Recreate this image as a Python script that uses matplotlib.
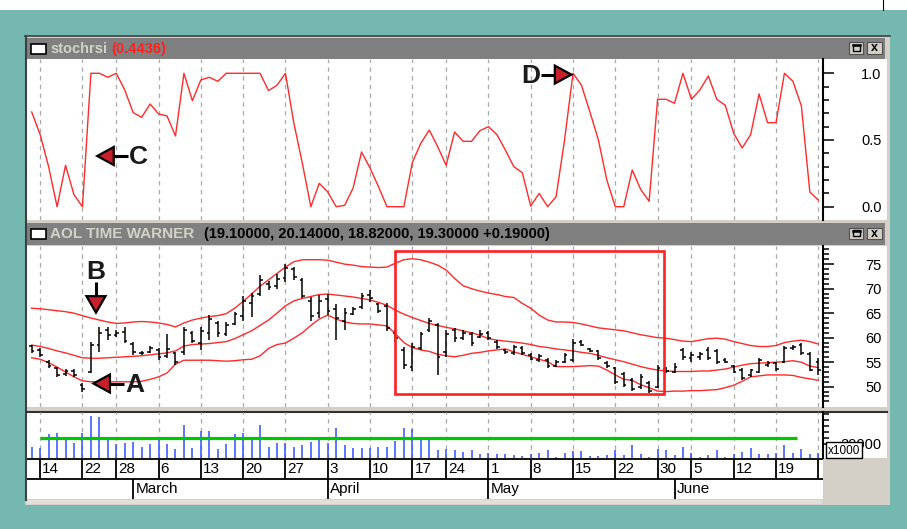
import matplotlib
matplotlib.use("Agg")
import matplotlib.pyplot as plt
from matplotlib.patches import Rectangle, Polygon
from matplotlib import font_manager

# ── Data (bar index 0..93) ───────────────────────────────────

date_ticks  = [1, 6, 10, 15, 20, 25, 30, 35, 40, 45, 49, 54, 59, 64, 69, 74, 78, 83, 88, 93]
date_labels = ["14", "22", "28", "6", "13", "20", "27", "3", "10", "17",
               "24", "1", "8", "15", "22", "30", "5", "12", "19", ""]
month_ticks  = [12, 35, 54, 76]
month_labels = ["March", "April", "May", "June"]

stoch = [0.71, 0.54, 0.30, 0.00, 0.31, 0.09, 0.00, 1.00, 1.00, 0.97,
         1.00, 0.875, 0.705, 0.67, 0.77, 0.695, 0.68, 0.53, 1.00, 0.795,
         0.95, 0.97, 0.94, 1.00, 1.00, 1.00, 1.00, 1.00, 0.87, 0.91,
         1.00, 0.625, 0.325, 0.00, 0.175, 0.11, 0.00, 0.01, 0.14, 0.41,
         0.29, 0.15, 0.00, 0.00, 0.00, 0.33, 0.475, 0.575, 0.45, 0.31,
         0.56, 0.49, 0.49, 0.57, 0.60, 0.54, 0.425, 0.30, 0.255, 0.005,
         0.10, 0.00, 0.075, 0.50, 1.00, 0.91, 0.71, 0.50, 0.20, 0.00,
         0.00, 0.275, 0.13, 0.04, 0.805, 0.805, 0.775, 1.00, 0.805, 0.875,
         0.98, 0.805, 0.76, 0.55, 0.44, 0.54, 0.845, 0.63, 0.63, 1.00,
         0.94, 0.755, 0.11, 0.05]

high = [58.5, 57.8, 55.4, 54.1, 53.7, 53.7, 50.7, 59.2, 62.2, 62.2,
        61.6, 62.2, 59.2, 57.3, 58.3, 57.8, 60.7, 57.1, 62.2, 61.4,
        62.2, 64.6, 63.3, 63.1, 65.3, 68.4, 69.1, 72.7, 71.6, 73.0,
        75.0, 74.5, 72.1, 68.2, 68.7, 68.9, 66.8, 66.0, 66.3, 69.2,
        69.7, 67.0, 67.0, 61.6, 58.0, 59.0, 61.2, 64.1, 62.9, 61.6,
        61.9, 61.6, 61.1, 61.6, 61.4, 59.5, 57.7, 58.6, 58.2, 56.8,
        56.6, 55.8, 55.4, 56.8, 59.7, 59.5, 57.8, 57.5, 55.2, 54.1,
        53.0, 51.7, 52.5, 51.2, 54.4, 54.1, 54.8, 57.8, 57.1, 57.0,
        58.0, 57.6, 55.8, 54.4, 53.9, 53.7, 55.8, 55.2, 55.1, 58.2,
        58.5, 58.9, 57.0, 55.8]
low = [56.8, 56.1, 53.9, 52.0, 52.2, 52.0, 49.0, 52.7, 57.1, 59.5,
       60.2, 58.9, 56.5, 56.5, 56.8, 55.4, 55.8, 54.4, 56.5, 58.9,
       57.5, 59.5, 60.2, 60.4, 62.6, 63.3, 64.3, 68.4, 69.7, 69.9,
       71.3, 71.8, 68.0, 63.4, 64.1, 64.6, 59.5, 61.6, 64.6, 65.9,
       67.2, 65.0, 61.4, 59.2, 53.6, 53.1, 57.5, 61.2, 52.4, 56.1,
       59.2, 59.5, 58.2, 59.9, 59.5, 57.7, 56.6, 56.5, 56.5, 55.4,
       55.0, 53.8, 54.1, 54.8, 55.1, 58.2, 57.1, 55.4, 53.9, 50.5,
       50.0, 49.2, 49.6, 48.8, 49.8, 52.7, 52.7, 55.4, 55.1, 55.4,
       55.4, 54.6, 54.8, 52.7, 51.4, 52.0, 52.7, 54.1, 53.2, 54.8,
       57.5, 56.5, 53.1, 52.4]
opens = [58.2, 57.4, 55.0, 53.8, 52.5, 53.3, 50.4, 53.0, 58.5, 61.5,
         60.6, 61.2, 58.8, 56.8, 57.0, 57.5, 56.2, 56.8, 57.0, 61.0,
         59.0, 61.0, 63.0, 60.8, 62.8, 64.5, 67.0, 68.9, 71.0, 70.5,
         72.2, 74.0, 71.8, 67.5, 65.0, 67.8, 65.8, 63.5, 64.9, 66.2,
         68.8, 66.8, 66.5, 61.0, 57.5, 54.0, 57.8, 61.5, 62.5, 57.0,
         61.5, 60.0, 60.8, 60.2, 61.0, 59.2, 57.5, 56.8, 57.8, 56.5,
         55.4, 55.5, 54.3, 55.0, 55.5, 59.2, 57.7, 57.2, 54.8, 53.8,
         52.5, 51.4, 49.9, 50.8, 50.0, 53.6, 53.0, 57.4, 55.8, 56.0,
         57.5, 57.2, 55.5, 54.2, 53.5, 52.3, 53.0, 54.4, 54.8, 55.0,
         57.8, 58.5, 56.6, 55.0]
close = [57.2, 56.5, 54.3, 52.4, 53.2, 52.3, 49.6, 58.6, 61.0, 60.5,
         61.0, 59.3, 57.0, 56.9, 57.8, 56.0, 57.6, 55.0, 61.5, 59.3,
         61.4, 63.8, 61.0, 62.5, 64.8, 67.5, 68.5, 71.8, 70.4, 72.0,
         74.2, 72.3, 68.5, 64.5, 67.5, 65.5, 64.0, 65.0, 65.8, 68.5,
         68.0, 65.5, 62.0, 60.0, 54.5, 58.0, 60.8, 63.5, 56.0, 60.8,
         60.0, 61.0, 59.0, 60.8, 60.0, 58.0, 57.0, 58.0, 56.8, 55.7,
         56.2, 54.2, 55.0, 56.5, 59.0, 58.6, 57.3, 55.8, 54.2, 51.0,
         50.4, 49.6, 52.0, 49.2, 53.8, 53.2, 54.0, 56.0, 56.5, 56.6,
         55.8, 55.0, 55.0, 53.0, 51.8, 53.4, 55.5, 54.9, 53.6, 57.8,
         58.0, 56.8, 53.5, 53.4]

bb_upper = [66.0, 65.9, 65.7, 65.5, 65.3, 65.0, 64.5, 64.0, 63.6, 63.2,
            62.9, 63.0, 63.2, 63.3, 63.2, 63.0, 62.7, 62.2, 63.0, 63.6,
            64.0, 64.3, 64.5, 64.9, 66.0, 67.4, 68.9, 70.5, 71.8, 73.1,
            74.4, 75.5, 75.9, 75.9, 75.9, 75.8, 75.4, 75.0, 74.8, 74.5,
            74.4, 74.3, 74.4, 75.2, 75.9, 76.1, 75.9, 75.4, 74.8, 73.8,
            72.1, 70.6, 70.0, 69.5, 69.1, 68.8, 68.4, 68.2, 67.0, 66.0,
            64.6, 63.6, 63.2, 63.2, 63.1, 62.8, 62.4, 62.0, 61.8, 61.6,
            61.4, 61.0, 60.6, 60.3, 60.0, 59.9, 59.6, 59.3, 59.2, 59.5,
            59.8, 59.9, 59.7, 59.2, 58.8, 58.4, 58.2, 58.2, 58.4, 59.0,
            59.3, 59.5, 59.2, 58.7]
bb_mid = [58.5, 58.2, 57.8, 57.3, 56.9, 56.4, 55.9, 55.8, 55.8, 55.9,
          56.0, 56.1, 56.2, 56.3, 56.5, 56.7, 56.9, 57.3, 58.3, 58.6,
          58.7, 58.8, 59.0, 59.2, 59.8, 60.6, 61.4, 62.5, 63.6, 65.0,
          66.5, 67.5, 68.0, 68.4, 68.8, 68.9, 68.7, 68.5, 68.3, 68.0,
          67.7, 67.2, 66.6, 65.6, 64.8, 64.1, 63.5, 62.9, 62.5, 62.1,
          61.8, 61.4, 61.0, 60.5, 59.8, 59.5, 59.3, 59.1, 58.9, 58.6,
          58.2, 58.0, 57.7, 57.5, 57.3, 57.0, 56.8, 56.4, 55.9, 55.5,
          55.1, 54.6, 54.1, 53.7, 53.4, 53.2, 53.1, 53.1, 53.1, 53.2,
          53.2, 53.4, 53.6, 54.0, 54.4, 54.7, 54.8, 54.9, 55.0, 55.1,
          55.3, 55.0, 54.2, 53.9]
bb_lower = [55.9, 55.6, 54.9, 54.0, 53.0, 52.0, 51.2, 51.0, 51.0, 51.0,
            51.0, 51.0, 51.0, 51.1, 51.5, 52.0, 52.8, 54.6, 55.4, 55.4,
            55.4, 55.4, 55.3, 55.2, 55.3, 55.5, 55.6, 56.3, 57.8, 58.6,
            58.9, 59.9, 61.0, 62.5, 63.8, 64.6, 63.8, 63.2, 62.9, 62.8,
            62.8, 62.6, 62.4, 60.8, 59.0, 58.0, 57.5, 57.2, 56.6, 56.3,
            56.1, 56.4, 56.8, 57.0, 57.3, 57.5, 57.7, 57.1, 56.6, 56.1,
            55.6, 55.1, 54.1, 54.1, 54.1, 54.2, 54.3, 54.2, 53.4, 52.4,
            51.5, 51.3, 50.4, 49.8, 49.1, 49.0, 49.1, 49.1, 49.2, 49.2,
            49.3, 49.4, 49.8, 50.3, 51.1, 52.0, 52.2, 52.4, 52.4, 52.4,
            52.3, 51.9, 51.6, 51.3]

volume = [15900, 14500, 33000, 35000, 26000, 21000, 35000, 57600, 55800, 25000,
          19000, 21000, 22700, 15900, 19500, 27000, 19500, 12300, 45400, 13600,
          37200, 37200, 12300, 19500, 33000, 34000, 26000, 45400, 15900, 21300,
          21300, 15900, 18100, 22700, 26000, 21300, 41700, 18100, 13600, 14500,
          14500, 15900, 15900, 24000, 41700, 40000, 25000, 26000, 11300, 12300,
          11300, 9100, 11300, 5900, 7700, 5900, 5900, 4500, 3200, 5900,
          6800, 11300, 2300, 7700, 10000, 10000, 3000, 3000, 4500, 11300,
          4500, 18100, 5900, 2300, 12300, 11300, 4500, 15900, 7700, 2300,
          4500, 11300, 2300, 5900, 9100, 14500, 5900, 5900, 7700, 18100,
          7700, 12300, 5900, 7700]
vol_avg = 28000
vol_avg_span = (1, 90.5)

# highlighted region (bar index / price)
box_bars = (42.95, 74.7)
box_prices = (48.5, 77.7)

# ── Look ─────────────────────────────────────────────────────
TEAL = "#74B8B0"
FRAME = "#D4D0C8"
TITLE_BG = "#808080"
TITLE_FG = "#D2D2C8"
RED = "#FF2A2A"
BLUE = "#2F50FF"
GREEN = "#00C800"
GRID = "#A8A8A8"

plt.rcParams["font.family"] = ["Liberation Sans", "DejaVu Sans"]
names = {f.name for f in font_manager.fontManager.ttflist}
LETTER_FONT = "Liberation Sans Narrow" if "Liberation Sans Narrow" in names else "Liberation Sans"

W, H = 907, 529
X_LEFT, X_AXIS = 27, 822.7
BAR_X0, BAR_DX = 31.7, 8.458          # pixel position of bar 0, pixels per bar
XLIM = ((X_LEFT - BAR_X0) / BAR_DX, (X_AXIS - BAR_X0) / BAR_DX)

fig = plt.figure(figsize=(W / 100, H / 100), dpi=100, facecolor=TEAL)


def px_axes(l, t, r, b, **kw):
    return fig.add_axes([l / W, 1 - b / H, (r - l) / W, (b - t) / H], **kw)


def rect(ax, x0, y0, x1, y1, **kw):
    ax.add_patch(Rectangle((x0, y0), x1 - x0, y1 - y0, **kw))


# ── Window chrome (pixel coords, y down) ─────────────────────
bg = px_axes(0, 0, W, H, zorder=-5)
bg.set_xlim(0, W)
bg.set_ylim(H, 0)
bg.axis("off")

rect(bg, 0, 0, W, 9.5, fc="white", ec="none")
bg.plot([883, 883], [0, 9.5], color="black", lw=0.8)
rect(bg, 25, 35.5, 890, 504.5, fc=FRAME, ec="none")
bg.plot([25.6, 25.6], [35.5, 500], color="#404040", lw=1.5)
bg.plot([25, 890], [36.3, 36.3], color="#404040", lw=1.2)
rect(bg, 27, 499.5, 822, 504, fc="#E2E0D8", ec="none")

for top, bot in [(38, 58.5), (223.3, 244.5)]:
    rect(bg, 27, top, 885, bot, fc=TITLE_BG, ec="none")
    cy = (top + bot) / 2
    rect(bg, 30.5, cy - 4.7, 45.5, cy + 5.3, fc="white", ec="black", lw=1.2)
    for bx in (848.5, 867):
        rect(bg, bx, cy - 6, bx + 14.5, cy + 5.5, fc=FRAME, ec="#505050", lw=0.8)
    rect(bg, 852.5, cy - 3.5, 859.5, cy + 2.5, fc="none", ec="black", lw=1.0)
    bg.plot([852.5, 859.5], [cy - 3.2, cy - 3.2], color="black", lw=1.8)
    bg.text(874.2, cy, "x", ha="center", va="center", fontsize=9,
            fontweight="bold", color="black")

for top, bot in [(59, 219.5), (246, 406.5), (411, 458.3)]:
    rect(bg, 27, top, 887, bot, fc="white", ec="none")
rect(bg, 27, 458.3, X_AXIS, 499, fc="white", ec="none")
bg.plot([27, 887], [411.7, 411.7], color="#303030", lw=1.5)

bg.text(50, 48.8, "stochrsi", color=TITLE_FG, fontsize=10.5,
        fontweight="bold", va="center")
bg.text(111, 48.8, "(0.4436)", color="#FF2020", fontsize=10.5,
        fontweight="bold", va="center")
bg.text(50, 234.3, "AOL TIME WARNER", color=TITLE_FG, fontsize=11,
        fontweight="bold", va="center")
bg.text(204, 234.3, "(19.10000, 20.14000, 18.82000, 19.30000 +0.19000)",
        color="black", fontsize=10.5, fontweight="bold", va="center")


# ── Data panels ───────────────────────────────────────────────
def style_panel(ax):
    ax.set_facecolor("none")
    ax.set_xlim(XLIM)
    for s in ("left", "top", "bottom"):
        ax.spines[s].set_visible(False)
    ax.spines["right"].set_linewidth(1.5)
    ax.set_xticks(date_ticks)
    ax.tick_params(axis="x", length=0, labelbottom=False)
    ax.grid(axis="x", color=GRID, linestyle=(0, (3.5, 3.5)), linewidth=0.9)
    ax.yaxis.tick_right()
    ax.tick_params(axis="y", which="major", length=8, width=1.1,
                   pad=34.5, labelsize=10.5)
    ax.tick_params(axis="y", which="minor", length=4, width=1.1)


idx = list(range(len(stoch)))

# stochrsi
ax_s = px_axes(X_LEFT, 59, X_AXIS, 219.5)
style_panel(ax_s)
ax_s.set_ylim(-0.096, 1.107)
ax_s.set_yticks([0.0, 0.5, 1.0])
ax_s.set_yticklabels(["0.0", "0.5", "1.0"])
ax_s.set_yticks([0.1, 0.2, 0.3, 0.4, 0.6, 0.7, 0.8, 0.9], minor=True)
ax_s.plot(idx, stoch, color=RED, lw=1.0)

# price + bollinger
ax_p = px_axes(X_LEFT, 246, X_AXIS, 406.5)
style_panel(ax_p)
ax_p.set_ylim(45.96, 78.7)
ax_p.set_yticks([50, 55, 60, 65, 70, 75])
ax_p.set_yticks([v for v in range(47, 79) if v % 5], minor=True)
for band in (bb_upper, bb_mid, bb_lower):
    ax_p.plot(idx, band, color=RED, lw=1.0)
ax_p.vlines(idx, low, high, color="black", lw=1.1)
ax_p.hlines(opens, [i - 0.32 for i in idx], idx, color="black", lw=1.1)
ax_p.hlines(close, idx, [i + 0.32 for i in idx], color="black", lw=1.1)
ax_p.add_patch(Rectangle((box_bars[0], box_prices[0]), box_bars[1] - box_bars[0],
                         box_prices[1] - box_prices[0], fill=False,
                         ec="#FF2020", lw=1.9, zorder=5, clip_on=False))

# volume
ax_v = px_axes(X_LEFT, 411.7, X_AXIS, 458.3)
style_panel(ax_v)
ax_v.set_ylim(0, 63400)
ax_v.set_yticks([20000])
ax_v.set_yticklabels(["20000"])
ax_v.set_yticks([28000, 36000, 44000, 52000, 60000], minor=True)
ax_v.vlines(idx, 0, volume, color=BLUE, lw=1.1)
ax_v.hlines(vol_avg, *vol_avg_span, color=GREEN, lw=2.3)

for ax in (ax_s, ax_p, ax_v):
    for lab in ax.get_yticklabels():
        lab.set_ha("right")

# date rows
ax_d = px_axes(X_LEFT, 458.3, X_AXIS, 499)
ax_d.set_xlim(XLIM)
ax_d.set_ylim(40.7, 0)
ax_d.axis("off")
ax_d.hlines([0.7, 20.7], XLIM[0], XLIM[1], color="black", lw=1.3)
ax_d.vlines(date_ticks, 0.7, 20.7, color="black", lw=1.3)
ax_d.vlines(month_ticks, 20.7, 40.7, color="black", lw=1.3)
for t, lab in zip(date_ticks, date_labels):
    ax_d.text(t + 0.25, 11.0, lab, fontsize=11, ha="left", va="center")
for t, lab in zip(month_ticks, month_labels):
    ax_d.text(t + 0.3, 31.0, lab, fontsize=11, ha="left", va="center")

# ── Overlay: annotation arrows, x1000 box ────────────────────
ov = px_axes(0, 0, W, H, zorder=10)
ov.set_xlim(0, W)
ov.set_ylim(H, 0)
ov.axis("off")
ov.set_facecolor("none")

# the "x1000" multiplier box sits over the volume scale label, as in the app
rect(ov, 826, 442, 861.7, 458.3, fc="white", ec="black", lw=1.0)
ov.text(844, 450.5, "x1000", fontsize=8.5, ha="center", va="center")


def to_px(ax, x, y):
    dx, dy = ax.transData.transform((x, y))
    return dx, H - dy


def arrow_mark(ax, x, y, direction, letter):
    tx, ty = to_px(ax, x, y)
    head, shaft, gap = 16.5, 14, 41
    if direction == "left":
        tri = [(tx, ty), (tx + head, ty - 9), (tx + head, ty + 9)]
        sx, sy = [tx + head, tx + head + shaft], [ty, ty]
        lx, ly = tx + gap, ty + 1.5
    elif direction == "right":
        tri = [(tx, ty), (tx - head, ty - 9), (tx - head, ty + 9)]
        sx, sy = [tx - head, tx - head - shaft], [ty, ty]
        lx, ly = tx - gap, ty + 1
    else:  # down
        tri = [(tx, ty), (tx - 9.5, ty - head), (tx + 9.5, ty - head)]
        sx, sy = [tx, tx], [ty - head, ty - head - shaft]
        lx, ly = tx, ty - gap
    ov.plot(sx, sy, color="black", lw=2.2, solid_capstyle="butt")
    ov.add_patch(Polygon(tri, closed=True, fc="#C8202A", ec="black", lw=1.6))
    ov.text(lx, ly, letter, fontsize=19, fontweight="bold", family=LETTER_FONT,
            ha="center", va="center", color="#1A1A1A")


arrow_mark(ax_s, 7.75, 0.38, "left", "C")
arrow_mark(ax_s, 63.8, 0.99, "right", "D")
arrow_mark(ax_p, 7.6, 65.1, "down", "B")
arrow_mark(ax_p, 7.3, 50.65, "left", "A")

fig.savefig("out.png", dpi=100, facecolor=TEAL)
